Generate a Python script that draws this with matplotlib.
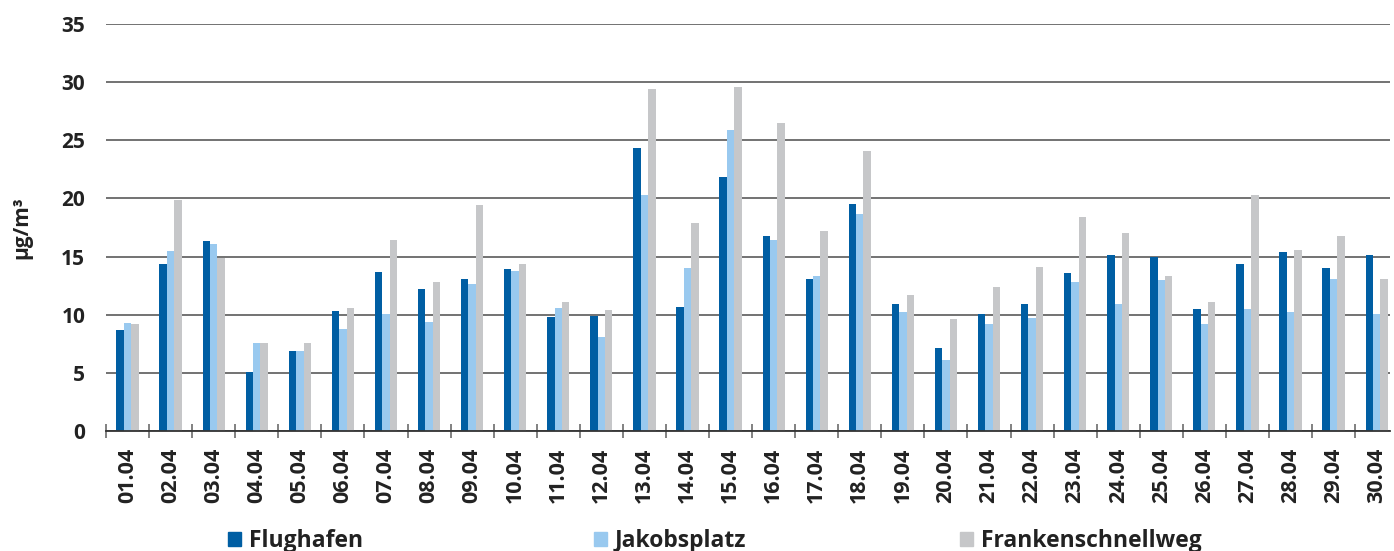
import numpy as np
import matplotlib
matplotlib.use("Agg")
import matplotlib.pyplot as plt
from matplotlib.patches import Patch

plt.rcParams['font.family'] = ['Open Sans', 'DejaVu Sans']
plt.rcParams['font.weight'] = 'bold'

days = ['01.04', '02.04', '03.04', '04.04', '05.04', '06.04', '07.04', '08.04', '09.04', '10.04',
        '11.04', '12.04', '13.04', '14.04', '15.04', '16.04', '17.04', '18.04', '19.04', '20.04',
        '21.04', '22.04', '23.04', '24.04', '25.04', '26.04', '27.04', '28.04', '29.04', '30.04']

flughafen = [8.7, 14.4, 16.3, 5.1, 6.9, 10.3, 13.7, 12.2, 13.1, 13.9,
             9.8, 9.9, 24.3, 10.7, 21.8, 16.8, 13.1, 19.5, 10.9, 7.1,
             10.1, 10.9, 13.6, 15.1, 15.0, 10.5, 14.4, 15.4, 14.0, 15.1]
jakobsplatz = [9.3, 15.5, 16.1, 7.6, 6.9, 8.8, 10.1, 9.4, 12.6, 13.8,
               10.6, 8.1, 20.3, 14.0, 25.9, 16.4, 13.3, 18.7, 10.2, 6.1,
               9.2, 9.7, 12.8, 10.9, 13.0, 9.2, 10.5, 10.2, 13.1, 10.1]
franken = [9.2, 19.9, 14.9, 7.6, 7.6, 10.6, 16.4, 12.8, 19.4, 14.4,
           11.1, 10.4, 29.4, 17.9, 29.6, 26.5, 17.2, 24.1, 11.7, 9.6,
           12.4, 14.1, 18.4, 17.0, 13.3, 11.1, 20.3, 15.6, 16.8, 13.1]

names = ['Flughafen', 'Jakobsplatz', 'Frankenschnellweg']
colors = ['#005ea3', '#99c9ef', '#c6c7c9']

W, H = 1394, 551
fig = plt.figure(figsize=(W / 100, H / 100), dpi=100)
ax = fig.add_axes([106 / W, (H - 431) / H, (1390 - 106) / W, (431 - 24) / H])

x = np.arange(len(days))
bw = 0.172
for k, vals in enumerate([flughafen, jakobsplatz, franken]):
    ax.bar(x + (k - 1) * bw, vals, width=bw, color=colors[k], zorder=2)

ax.set_xlim(-0.5, 29.31)
ax.set_ylim(0, 35)
ax.set_yticks(range(0, 36, 5))
ax.yaxis.grid(True, color='#5a5a5a', linewidth=1.2)
ax.set_axisbelow(True)

for s in ['left', 'right', 'top']:
    ax.spines[s].set_visible(False)
ax.spines['bottom'].set_color('#333333')
ax.spines['bottom'].set_linewidth(1.3)

ax.tick_params(axis='y', length=0, pad=15, labelsize=15, colors='#222222')
ax.set_xticks(x)
ax.set_xticklabels(days, rotation=90)
ax.tick_params(axis='x', which='major', length=0, pad=12, labelsize=15.5, colors='#222222')
ax.set_xticks(np.arange(-0.5, 29, 1), minor=True)
ax.tick_params(axis='x', which='minor', direction='inout', length=10, width=1.3, color='#777777')

fig.text(22 / W, 1 - 228 / H, 'µg/m³', rotation=90, ha='center', va='center',
         fontsize=15, fontweight='bold', color='#222222')

for k, xpos in enumerate([228, 594, 960]):
    fig.legend(handles=[Patch(color=colors[k], label=names[k])], loc='center left',
               bbox_to_anchor=(xpos / W, 1 - 541 / H), frameon=False, fontsize=16.5,
               handlelength=0.55, handleheight=0.55, handletextpad=0.35, borderpad=0,
               borderaxespad=0, labelcolor='#222222')

fig.savefig('out.png', dpi=100)
